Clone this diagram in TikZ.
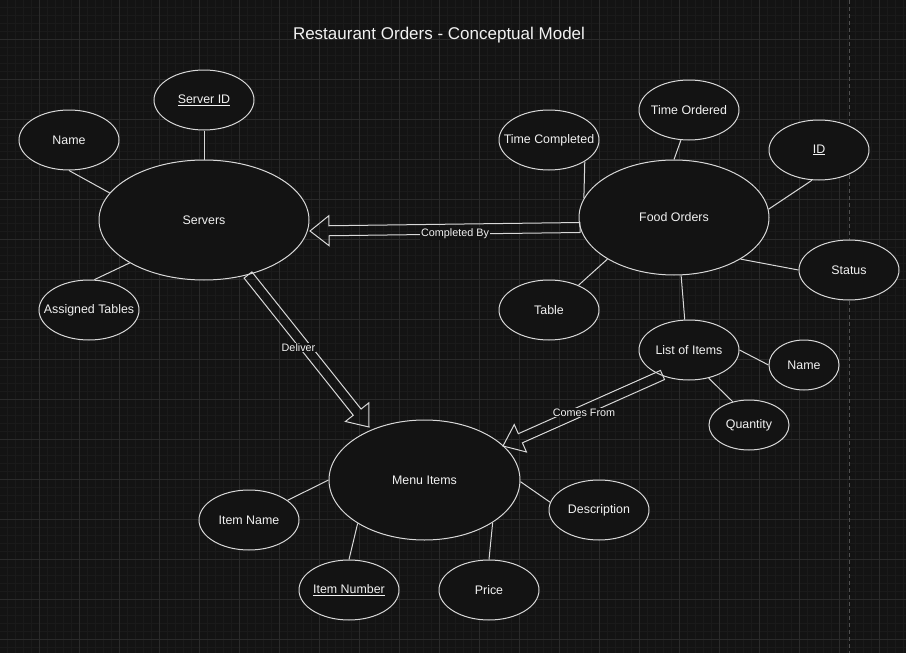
\documentclass[tikz,border=0pt]{standalone}
\usepackage{fontspec}
\setmainfont{Liberation Sans}
\usetikzlibrary{shapes.geometric,calc}
\definecolor{bgc}{HTML}{131313}
\definecolor{minorc}{HTML}{1A1A1A}
\definecolor{majorc}{HTML}{2A2A2A}
\definecolor{pagec}{HTML}{505050}
\definecolor{strokec}{HTML}{D8D8D8}
\definecolor{textc}{HTML}{F2F2F2}
\newcommand\blockarrow[2]{%
  \coordinate (#1-hb) at ($(#2)!19pt!(#1)$);
  \draw[flexline] ($(#1)!5pt!90:(#2)$) -- ($(#1-hb)!5pt!90:(#2)$)
    -- ($(#1-hb)!15pt!90:(#2)$) -- (#2) -- ($(#1-hb)!15pt!-90:(#2)$)
    -- ($(#1-hb)!5pt!-90:(#2)$) -- ($(#1)!5pt!-90:(#2)$) -- cycle;
}
\newcommand\attrtext[1]{\makebox[0pt]{\raisebox{-0.8pt}{#1}}}
\begin{document}
\begin{tikzpicture}[x=1pt,y=-1pt,
  attr/.style={ellipse, draw=strokec, fill=bgc, line width=1pt, inner sep=0pt,
    text=textc, font=\fontsize{12.4}{14}\selectfont},
  conn/.style={draw=strokec, line width=1pt},
  flexline/.style={draw=strokec, line width=1pt},
  elabel/.style={fill=bgc, inner sep=1pt, text=textc, font=\fontsize{10.8}{12}\selectfont},
]
% background and grid
\fill[bgc] (0,0) rectangle (906,653);
\useasboundingbox (0,0) rectangle (906,653);
\foreach \x in {7.5,15.5,...,903.5} \draw[minorc, line width=1pt] (\x,0) -- (\x,653);
\foreach \y in {7.5,15.5,...,647.5} \draw[minorc, line width=1pt] (0,\y) -- (906,\y);
\foreach \x in {39.5,79.5,...,879.5} \draw[majorc, line width=1pt] (\x,0) -- (\x,653);
\foreach \y in {39.5,79.5,...,639.5} \draw[majorc, line width=1pt] (0,\y) -- (906,\y);
\draw[pagec, line width=1pt, dash pattern=on 4pt off 3pt] (849.5,0) -- (849.5,653);

% title
\node[text=textc, font=\fontsize{17}{20}\selectfont] (title) at (439,35.5) {Restaurant Orders - Conceptual Model};

% entities and attributes
\node[attr, minimum width=210pt, minimum height=120pt] (servers) at (204,220) {\attrtext{Servers}};
\node[attr, minimum width=100pt, minimum height=60pt] (serverid) at (204,100) {\attrtext{\underline{Server ID}}};
\node[attr, minimum width=100pt, minimum height=60pt] (name1) at (69,140) {\attrtext{Name}};
\node[attr, minimum width=100pt, minimum height=60pt] (assigned) at (89,310) {\attrtext{Assigned Tables}};

\node[attr, minimum width=190pt, minimum height=115pt] (food) at (674,217.5) {\attrtext{Food Orders}};
\node[attr, minimum width=100pt, minimum height=60pt] (tcomp) at (549,140) {\attrtext{Time Completed}};
\node[attr, minimum width=100pt, minimum height=60pt] (tord) at (689,110) {\attrtext{Time Ordered}};
\node[attr, minimum width=100pt, minimum height=60pt] (idn) at (819,150) {\attrtext{\underline{ID}}};
\node[attr, minimum width=100pt, minimum height=60pt] (status) at (849,270) {\attrtext{Status}};
\node[attr, minimum width=100pt, minimum height=60pt] (table) at (549,310) {\attrtext{Table}};
\node[attr, minimum width=100pt, minimum height=60pt] (loi) at (689,350) {\attrtext{List of Items}};
\node[attr, minimum width=70pt, minimum height=50pt] (name2) at (804,365) {\attrtext{Name}};
\node[attr, minimum width=80pt, minimum height=50pt] (qty) at (749,425) {\attrtext{Quantity}};

\node[attr, minimum width=191pt, minimum height=120pt] (menu) at (424.5,480) {\attrtext{Menu Items}};
\node[attr, minimum width=100pt, minimum height=60pt] (iname) at (249,520) {\attrtext{Item Name}};
\node[attr, minimum width=100pt, minimum height=60pt] (inum) at (349,590) {\attrtext{\underline{Item Number}}};
\node[attr, minimum width=100pt, minimum height=60pt] (price) at (489,590) {\attrtext{Price}};
\node[attr, minimum width=100pt, minimum height=60pt] (desc) at (599,510) {\attrtext{Description}};

% attribute connectors
\draw[conn] (serverid.south) -- (servers.north);
\draw[conn] (name1.south) -- (servers.164);
\draw[conn] (assigned.80) -- (servers.210);

\draw[conn] (tcomp.-31) -- (food.168);
\draw[conn] (tord.-105) -- (food.north);
\draw[conn] (idn.-103) -- (food.5);
\draw[conn] (status.west) -- (food.-32);
\draw[conn] (table.40) -- (food.212);
\draw[conn] (food.-83) -- (loi.98);
\draw[conn] (loi.east) -- (name2.west);
\draw[conn] (loi.-55) -- (qty.125);

\draw[conn] (iname.27) -- (menu.west);
\draw[conn] (inum.north) -- (menu.213);
\draw[conn] (price.north) -- (menu.-32);
\draw[conn] (desc.171) -- (menu.-1);

% relationship arrows
\coordinate (cb-s) at (580,227.5);
\coordinate (cb-t) at (310,231);
\coordinate (dl-s) at (248,275);
\coordinate (dl-t) at (369,427);
\coordinate (cf-s) at (662.5,375);
\coordinate (cf-t) at (503,446);
\blockarrow{cb-s}{cb-t}
\blockarrow{dl-s}{dl-t}
\blockarrow{cf-s}{cf-t}
\node[elabel] (cblabel) at (455,233.5) {Completed By};
\node[elabel] (dllabel) at (298.5,347.5) {Deliver};
\node[elabel] (cflabel) at (584,412.5) {Comes From};
\end{tikzpicture}
\end{document}
